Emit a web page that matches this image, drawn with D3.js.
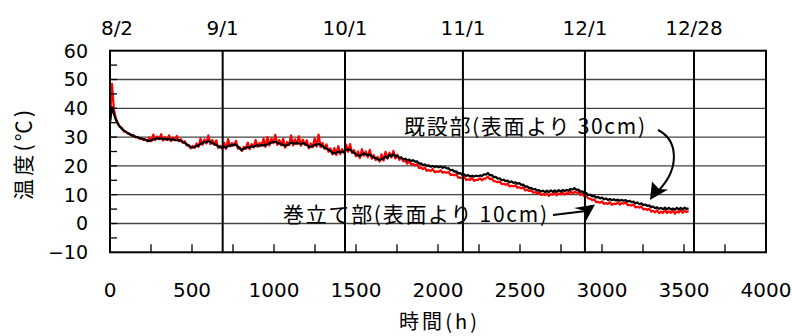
<!DOCTYPE html>
<html><head><meta charset="utf-8">
<script src="https://cdn.jsdelivr.net/npm/d3@7"></script>
<style>body{margin:0;background:#fff} svg{display:block;background:#fff}</style>
</head><body><svg id="c" width="792" height="336"></svg>
<script>
// time step of the logged series (hours)
const stepHours = 12;
// 既設部(表面より 30cm) — black
const black30 = [
35.0,40.3,38.0,36.0,34.6,33.6,32.9,32.3,31.8,31.4,
31.0,30.7,30.4,30.1,29.9,29.7,29.5,29.3,29.1,28.8,
28.7,28.9,29.2,29.4,29.6,29.4,29.5,29.3,29.4,29.2,
29.3,29.1,29.2,29.0,28.9,29.0,28.7,28.3,28.0,27.5,
27.0,26.5,26.4,26.6,26.9,27.2,27.6,28.0,28.3,28.2,
28.6,28.4,27.9,27.6,27.2,26.8,26.5,26.3,26.6,26.4,
26.9,27.2,27.0,27.5,27.3,26.7,26.0,25.5,25.9,26.3,
26.5,26.4,26.9,26.6,27.0,27.2,26.9,27.3,27.1,27.2,
27.5,27.8,28.1,28.3,28.4,28.0,27.8,27.5,27.3,26.9,
27.2,27.6,28.1,27.9,27.7,28.0,27.8,27.6,27.9,27.7,
27.2,26.7,26.6,27.0,27.2,27.4,27.6,27.3,26.8,26.4,
26.0,25.6,25.2,24.6,24.3,24.6,24.9,24.8,24.9,25.0,
25.4,25.8,25.6,25.0,24.5,24.0,23.6,23.5,23.9,24.3,
24.0,23.7,23.9,23.4,22.9,22.7,22.3,22.0,22.3,22.6,
23.2,22.8,23.9,23.4,24.0,23.4,23.5,22.8,22.9,22.3,
22.5,21.9,22.2,21.7,22.0,21.5,21.6,20.8,20.9,20.3,
20.5,20.0,20.2,19.7,20.0,19.6,19.9,19.5,19.8,19.3,
19.7,19.1,19.2,18.5,18.6,18.0,18.1,17.4,17.5,16.9,
17.1,16.5,16.8,16.3,16.6,16.3,16.6,16.4,16.7,16.5,
17.1,17.0,17.5,16.8,16.8,16.1,16.2,15.6,15.7,15.0,
15.2,14.7,14.9,14.3,14.6,14.1,14.3,13.8,14.0,13.4,
13.5,12.8,12.9,12.3,12.4,11.8,12.0,11.4,11.6,11.1,
11.4,10.9,11.4,10.9,11.5,11.0,11.5,11.0,11.6,11.1,
11.6,11.3,11.6,11.4,12.0,11.8,12.3,11.7,11.8,11.0,
11.2,10.5,10.6,9.9,10.0,9.4,9.6,9.0,9.2,8.7,
9.0,8.4,8.7,8.2,8.5,8.1,8.4,8.0,8.3,7.9,
8.2,7.9,8.1,7.6,7.9,7.4,7.6,7.0,7.3,6.7,
7.0,6.4,6.6,6.1,6.3,5.7,5.9,5.3,5.6,5.1,
5.4,5.0,5.5,4.9,5.4,4.9,5.2,4.8,5.4,4.9,
5.4,4.9,5.5,5.0,5.3
];
// 巻立て部(表面より 10cm) — red
const red10 = [
36.0,48.5,39.5,36.5,34.8,33.6,33.2,32.0,31.9,31.3,
31.2,30.5,30.6,29.9,30.1,29.4,29.6,29.0,29.2,28.5,
29.9,28.6,30.9,28.9,30.2,29.3,31.0,28.8,30.0,29.0,
30.6,28.6,29.8,28.9,30.4,28.5,29.3,28.0,28.6,27.1,
27.3,26.1,26.9,26.2,27.8,26.6,29.5,27.3,29.2,27.8,
30.6,27.6,29.0,27.3,28.9,26.2,27.0,26.0,28.1,25.9,
29.3,26.8,27.9,27.1,28.7,26.0,26.4,25.2,26.6,25.9,
28.1,25.8,27.6,26.4,29.0,26.6,28.0,27.0,29.4,26.6,
30.0,27.1,29.5,27.9,30.8,27.3,29.0,27.1,29.4,26.3,
28.3,27.2,30.6,27.1,29.2,27.6,30.3,27.0,29.1,27.3,
28.9,26.1,27.8,26.5,29.6,26.7,30.9,26.5,28.0,25.9,
27.5,24.9,26.1,24.0,26.2,23.8,26.9,24.1,25.8,24.4,
27.4,24.9,27.6,24.5,25.5,23.3,25.0,22.7,25.8,23.5,
25.0,23.0,25.6,22.5,23.8,22.0,23.1,21.5,24.0,21.8,
24.9,22.5,24.6,22.9,25.2,22.6,23.9,22.1,23.0,21.6,
21.9,20.8,21.7,20.5,20.7,20.2,20.6,19.3,19.4,18.9,
19.4,18.3,18.6,18.2,18.9,17.8,18.1,17.9,18.5,17.6,
17.9,17.6,17.9,16.9,17.0,16.7,17.1,15.9,16.0,15.7,
16.3,15.1,15.4,15.1,15.8,14.8,15.2,15.1,15.7,15.0,
15.6,15.6,16.3,15.4,15.6,14.7,14.6,14.3,14.6,13.7,
13.8,13.4,13.8,12.9,13.1,12.9,13.3,12.4,12.6,12.2,
12.6,11.5,11.7,11.3,11.5,10.7,10.9,10.5,10.8,9.9,
10.2,9.9,10.5,9.6,10.2,10.0,10.7,9.8,10.4,10.1,
10.9,10.0,10.6,10.3,11.2,10.4,11.0,10.7,10.9,9.9,
10.3,9.4,9.7,8.7,8.6,8.1,8.4,7.4,7.5,7.2,
7.7,6.8,7.1,6.8,7.4,6.5,6.9,6.7,7.4,6.6,
7.1,6.9,7.3,6.4,6.5,6.2,6.6,5.6,5.8,5.5,
5.9,4.9,5.1,4.7,5.2,4.1,4.4,3.9,4.6,3.6,
4.1,3.7,4.7,3.6,4.2,3.7,4.5,3.4,4.2,3.8,
4.7,3.7,4.4,4.0,4.3
];
const monthLabels = ["8/2","9/1","10/1","11/1","12/1","12/28"];
const monthHours  = [0, 687, 1433, 2152, 2896, 3561];
const xTickValues = [0,500,1000,1500,2000,2500,3000,3500,4000];
const xMinorTicks = d3.range(250, 4000, 250);
const yTickValues = [-10,0,10,20,30,40,50,60];
const yMinorTicks = d3.range(-5, 60, 5);
const xTitle = "時間(h)";
const yTitle = "温度(℃)";
const label30 = "既設部(表面より 30cm)";
const label10 = "巻立て部(表面より 10cm)";

const svg = d3.select("#c");
const x = d3.scaleLinear().domain([0, 4000]).range([110, 766]);
const y = d3.scaleLinear().domain([-10, 60]).range([252.3, 50.7]);
const numFont = "'DejaVu Sans', 'Noto Sans CJK JP', sans-serif";
const jpFont = "'Noto Sans CJK JP', sans-serif";

// horizontal grid
svg.append("g").selectAll("line").data(yTickValues.slice(1, -1)).join("line")
  .attr("x1", x(0)).attr("x2", x(4000))
  .attr("y1", d => y(d)).attr("y2", d => y(d))
  .attr("stroke", "#444").attr("stroke-width", 1.3);

// series
const toPts = arr => arr.map((v, i) => [i * stepHours, v]);
const line = d3.line().x(d => x(d[0])).y(d => y(d[1]));
svg.append("path").attr("d", line(toPts(red10)))
  .attr("fill", "none").attr("stroke", "#ff0000").attr("stroke-width", 2.2).attr("stroke-linejoin", "round");
svg.append("path").attr("d", line(toPts(black30)))
  .attr("fill", "none").attr("stroke", "#000").attr("stroke-width", 2.2).attr("stroke-linejoin", "round");

// month lines
svg.append("g").selectAll("line").data(monthHours).join("line")
  .attr("x1", d => x(d)).attr("x2", d => x(d))
  .attr("y1", y(60)).attr("y2", y(-10))
  .attr("stroke", "#000").attr("stroke-width", 2);

// frame
svg.append("rect").attr("x", x(0)).attr("y", y(60))
  .attr("width", x(4000) - x(0)).attr("height", y(-10) - y(60))
  .attr("fill", "none").attr("stroke", "#000").attr("stroke-width", 2);

// minor ticks
svg.append("g").selectAll("line").data(yMinorTicks).join("line")
  .attr("x1", x(0)).attr("x2", x(0) + 7)
  .attr("y1", d => y(d)).attr("y2", d => y(d))
  .attr("stroke", "#000").attr("stroke-width", 1.3);
svg.append("g").selectAll("line").data(xMinorTicks).join("line")
  .attr("x1", d => x(d)).attr("x2", d => x(d))
  .attr("y1", y(-10)).attr("y2", y(-10) - 8)
  .attr("stroke", "#000").attr("stroke-width", 1.3);

// tick labels
svg.append("g").selectAll("text").data(yTickValues).join("text")
  .attr("x", 88).attr("y", d => y(d)).attr("dy", "0.36em")
  .attr("text-anchor", "end").attr("font-family", numFont).attr("font-size", 19)
  .text(d => d < 0 ? "\u2212" + Math.abs(d) : d);
svg.append("g").selectAll("text").data(xTickValues).join("text")
  .attr("x", d => x(d)).attr("y", 290).attr("dy", "0.36em")
  .attr("text-anchor", "middle").attr("font-family", numFont).attr("font-size", 20)
  .text(d => d);
svg.append("g").selectAll("text").data(monthLabels).join("text")
  .attr("x", (d, i) => x(monthHours[i]) + (i === 0 ? 7 : 0)).attr("y", 27.5).attr("dy", "0.36em")
  .attr("text-anchor", "middle").attr("font-family", numFont).attr("font-size", 20)
  .text(d => d);

// axis titles
svg.append("text").attr("x", 438).attr("y", 320).attr("dominant-baseline", "central")
  .attr("text-anchor", "middle").attr("font-family", jpFont).attr("font-size", 20)
  .attr("textLength", 78).attr("lengthAdjust", "spacing").text(xTitle);
svg.append("text").attr("transform", "translate(22,155) rotate(-90)")
  .attr("dominant-baseline", "central").attr("text-anchor", "middle")
  .attr("font-family", jpFont).attr("font-size", 21)
  .attr("textLength", 90).attr("lengthAdjust", "spacing").text(yTitle);

// annotations
svg.append("text").attr("x", 404).attr("y", 125).attr("dominant-baseline", "central")
  .attr("font-family", jpFont).attr("font-size", 21)
  .attr("textLength", 241).attr("lengthAdjust", "spacing").text(label30);
svg.append("text").attr("x", 283).attr("y", 213).attr("dominant-baseline", "central")
  .attr("font-family", jpFont).attr("font-size", 21)
  .attr("textLength", 264).attr("lengthAdjust", "spacing").text(label10);

// arrows
svg.append("path").attr("d", "M553,215 L586,211")
  .attr("fill", "none").attr("stroke", "#000").attr("stroke-width", 2);
svg.append("path").attr("d", "M595,204.5 L574,208 L585,211 L586,221 Z").attr("fill", "#000");
svg.append("path").attr("d", "M658,130 C678,140 680,168 659,190")
  .attr("fill", "none").attr("stroke", "#000").attr("stroke-width", 2);
svg.append("path").attr("d", "M650,200 L668,189.5 L659,189 L652,181.5 Z").attr("fill", "#000");
</script></body></html>
